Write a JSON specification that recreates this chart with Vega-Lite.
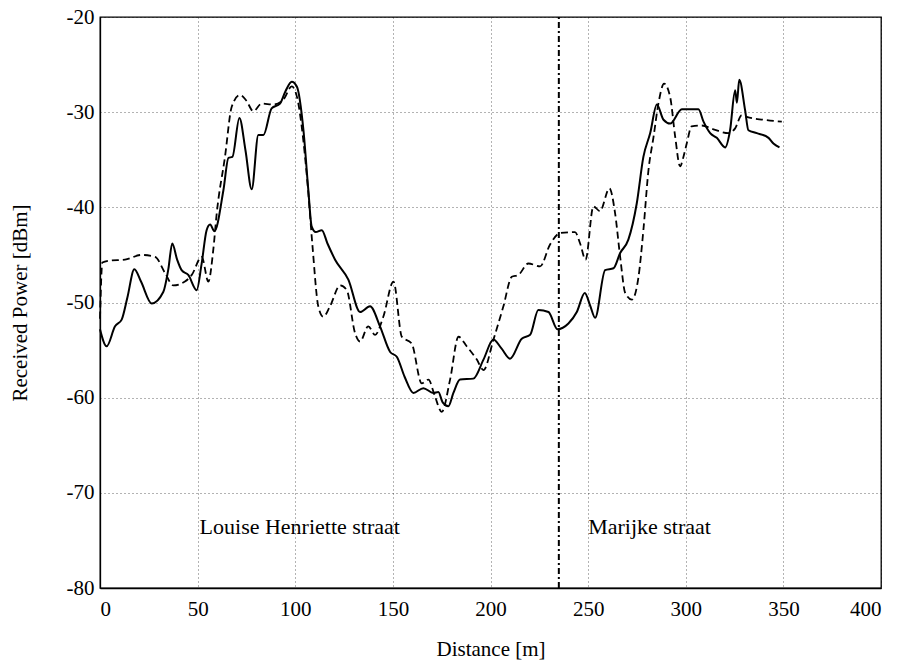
{
  "$schema": "https://vega.github.io/schema/vega-lite/v6.json",
  "width": 781,
  "height": 571,
  "autosize": {"type": "none"},
  "padding": {"left": 100, "top": 17, "right": 20, "bottom": 81},
  "background": "white",
  "config": {
    "font": "Liberation Serif",
    "view": {"stroke": "black", "strokeWidth": 1.3},
    "axis": {
      "domainColor": "black",
      "domainWidth": 1.3,
      "grid": true,
      "gridColor": "black",
      "gridOpacity": 0.6,
      "gridDash": [1, 3],
      "gridWidth": 1,
      "ticks": false,
      "labelFont": "Liberation Serif",
      "labelFontSize": 21,
      "labelColor": "black",
      "labelExpr": "toString(datum.value)",
      "titleFont": "Liberation Serif",
      "titleFontSize": 21,
      "titleFontWeight": "normal",
      "titleColor": "black"
    }
  },
  "datasets": {
    "solid": [
      {"d":0,"p":-52.8},{"d":3.4,"p":-54.6},{"d":7.7,"p":-52.5},{"d":11.1,"p":-51.8},{"d":14,"p":-49.5},{"d":17.6,"p":-46.5},{"d":21,"p":-47.8},{"d":26.5,"p":-50.1},{"d":32.4,"p":-48.9},{"d":35,"p":-46.5},{"d":37,"p":-43.8},{"d":39.5,"p":-45.5},{"d":41.8,"p":-46.6},{"d":45.2,"p":-47.1},{"d":49.5,"p":-48.7},{"d":52,"p":-46},{"d":54.6,"p":-42.4},{"d":56.4,"p":-41.8},{"d":58.6,"p":-42.5},{"d":63.2,"p":-38.2},{"d":65.8,"p":-34.8},{"d":67.8,"p":-34.7},{"d":71.4,"p":-30.6},{"d":74.5,"p":-34},{"d":77.7,"p":-38.1},{"d":81.1,"p":-32.4},{"d":83.7,"p":-32.4},{"d":87.9,"p":-29.6},{"d":92.2,"p":-29.1},{"d":95,"p":-27.8},{"d":98.2,"p":-26.8},{"d":100.8,"p":-27.3},{"d":104.2,"p":-31.9},{"d":106.7,"p":-38.2},{"d":108.4,"p":-42.0},{"d":110.5,"p":-42.6},{"d":113.6,"p":-42.4},{"d":116.5,"p":-43.8},{"d":120.4,"p":-45.5},{"d":127.2,"p":-47.6},{"d":133.2,"p":-51.0},{"d":138.3,"p":-50.4},{"d":143.4,"p":-52.5},{"d":148.6,"p":-55.2},{"d":152,"p":-55.7},{"d":156,"p":-57.8},{"d":160.5,"p":-59.5},{"d":165.6,"p":-59.0},{"d":170.7,"p":-59.5},{"d":173.3,"p":-59.4},{"d":175.5,"p":-60.5},{"d":178.4,"p":-60.9},{"d":181,"p":-59.5},{"d":184.4,"p":-58.1},{"d":191.2,"p":-58.0},{"d":196.4,"p":-56.0},{"d":201.5,"p":-53.9},{"d":205.5,"p":-54.8},{"d":210,"p":-55.9},{"d":216,"p":-53.8},{"d":220.3,"p":-53.4},{"d":224.5,"p":-50.8},{"d":229.7,"p":-51.0},{"d":234.3,"p":-52.8},{"d":239.9,"p":-52.2},{"d":244.2,"p":-51.0},{"d":248.3,"p":-49.0},{"d":251,"p":-50.3},{"d":253.6,"p":-51.6},{"d":258.7,"p":-46.6},{"d":263,"p":-46.4},{"d":266.4,"p":-44.8},{"d":270.6,"p":-43.4},{"d":274.9,"p":-39.6},{"d":278.3,"p":-34.7},{"d":281.8,"p":-32.2},{"d":285.2,"p":-29.2},{"d":288.6,"p":-30.8},{"d":292,"p":-31.2},{"d":298,"p":-29.7},{"d":306.5,"p":-29.7},{"d":309.1,"p":-31.0},{"d":312.5,"p":-32.2},{"d":315.9,"p":-32.7},{"d":320.2,"p":-33.7},{"d":322.7,"p":-31.9},{"d":325.3,"p":-27.7},{"d":326.2,"p":-29},{"d":327.4,"p":-26.6},{"d":330.4,"p":-29.8},{"d":332.1,"p":-31.9},{"d":336.4,"p":-32.2},{"d":342.4,"p":-32.7},{"d":344.9,"p":-33.3},{"d":348,"p":-33.7}
    ],
    "dashed": [
      {"d":0,"p":-51.7},{"d":1.2,"p":-45.8},{"d":5,"p":-45.6},{"d":12.8,"p":-45.5},{"d":21.3,"p":-45.0},{"d":28.2,"p":-45.2},{"d":33.3,"p":-46.9},{"d":37.5,"p":-48.2},{"d":43.5,"p":-47.8},{"d":47,"p":-47.1},{"d":52.1,"p":-45.2},{"d":55.5,"p":-47.8},{"d":58,"p":-44.5},{"d":59.8,"p":-40.6},{"d":64,"p":-34.7},{"d":67.5,"p":-29.4},{"d":71.7,"p":-28.2},{"d":75,"p":-28.8},{"d":78.5,"p":-29.9},{"d":82.8,"p":-29.1},{"d":88.8,"p":-29.2},{"d":93.9,"p":-28.7},{"d":98.2,"p":-27.3},{"d":101,"p":-28.5},{"d":103.3,"p":-31.5},{"d":106.5,"p":-38},{"d":108.8,"p":-44},{"d":111.8,"p":-50.4},{"d":114.4,"p":-51.5},{"d":117.8,"p":-50.4},{"d":123,"p":-48.2},{"d":126.4,"p":-48.7},{"d":130.6,"p":-53.2},{"d":133.2,"p":-54.1},{"d":137.4,"p":-52.5},{"d":140.9,"p":-53.4},{"d":145.1,"p":-51.5},{"d":150.3,"p":-47.8},{"d":154.6,"p":-53.6},{"d":159.6,"p":-54.3},{"d":164.8,"p":-58.5},{"d":168.2,"p":-58.1},{"d":171.6,"p":-59.9},{"d":175,"p":-61.5},{"d":179.3,"p":-58.1},{"d":183.6,"p":-53.6},{"d":187.8,"p":-54.6},{"d":193,"p":-56.0},{"d":196.4,"p":-57.1},{"d":201.5,"p":-53.9},{"d":206.6,"p":-50.4},{"d":210.9,"p":-47.3},{"d":214.3,"p":-47.1},{"d":219.4,"p":-45.9},{"d":225.4,"p":-46.2},{"d":230.5,"p":-43.9},{"d":235.7,"p":-42.7},{"d":243.3,"p":-42.6},{"d":245.9,"p":-43.8},{"d":248.7,"p":-45.5},{"d":252.7,"p":-39.9},{"d":256.1,"p":-40.4},{"d":260.9,"p":-38.0},{"d":263.8,"p":-40.6},{"d":266.4,"p":-45.2},{"d":269,"p":-49.0},{"d":272.4,"p":-49.7},{"d":275.8,"p":-47.3},{"d":278.3,"p":-42.4},{"d":280.9,"p":-36.1},{"d":283.5,"p":-32.6},{"d":286,"p":-29.1},{"d":288.9,"p":-27.0},{"d":292,"p":-28.4},{"d":294.6,"p":-32.6},{"d":297.1,"p":-35.7},{"d":298.8,"p":-34.7},{"d":300.5,"p":-33.3},{"d":303,"p":-31.5},{"d":308.2,"p":-31.4},{"d":314.2,"p":-31.8},{"d":321.9,"p":-32.2},{"d":325.3,"p":-31.7},{"d":328.7,"p":-30.3},{"d":331.3,"p":-30.5},{"d":339.8,"p":-30.8},{"d":349.2,"p":-31.0}
    ],
    "divider": [{"d": 235, "p": -80, "p2": -20}],
    "labels": [
      {"d": 51, "p": -73.6, "text": "Louise Henriette straat"},
      {"d": 250, "p": -73.6, "text": "Marijke straat"}
    ]
  },
  "encoding": {
    "x": {
      "field": "d", "type": "quantitative",
      "scale": {"domain": [0, 400], "nice": false, "zero": false},
      "axis": {"values": [0,50,100,150,200,250,300,350,400], "title": "Distance [m]", "labelPadding": 10, "titlePadding": 19}
    },
    "y": {
      "field": "p", "type": "quantitative",
      "scale": {"domain": [-80, -20], "nice": false, "zero": false},
      "axis": {"values": [-80,-70,-60,-50,-40,-30,-20], "title": "Received Power [dBm]", "labelPadding": 6, "titlePadding": 36}
    }
  },
  "layer": [
    {
      "data": {"name": "divider"},
      "mark": {"type": "rule", "color": "black", "strokeWidth": 2, "strokeDash": [6, 3, 2, 3]},
      "encoding": {
        "x": {"field": "d", "type": "quantitative"},
        "y": {"field": "p", "type": "quantitative"},
        "y2": {"field": "p2"}
      }
    },
    {
      "data": {"name": "dashed"},
      "mark": {"type": "line", "color": "black", "strokeWidth": 1.8, "strokeDash": [7, 4], "interpolate": "monotone"}
    },
    {
      "data": {"name": "solid"},
      "mark": {"type": "line", "color": "black", "strokeWidth": 2, "interpolate": "monotone"}
    },
    {
      "data": {"name": "labels"},
      "mark": {"type": "text", "align": "left", "baseline": "middle", "fontSize": 22, "font": "Liberation Serif", "color": "black"},
      "encoding": {"text": {"field": "text"}}
    }
  ]
}
